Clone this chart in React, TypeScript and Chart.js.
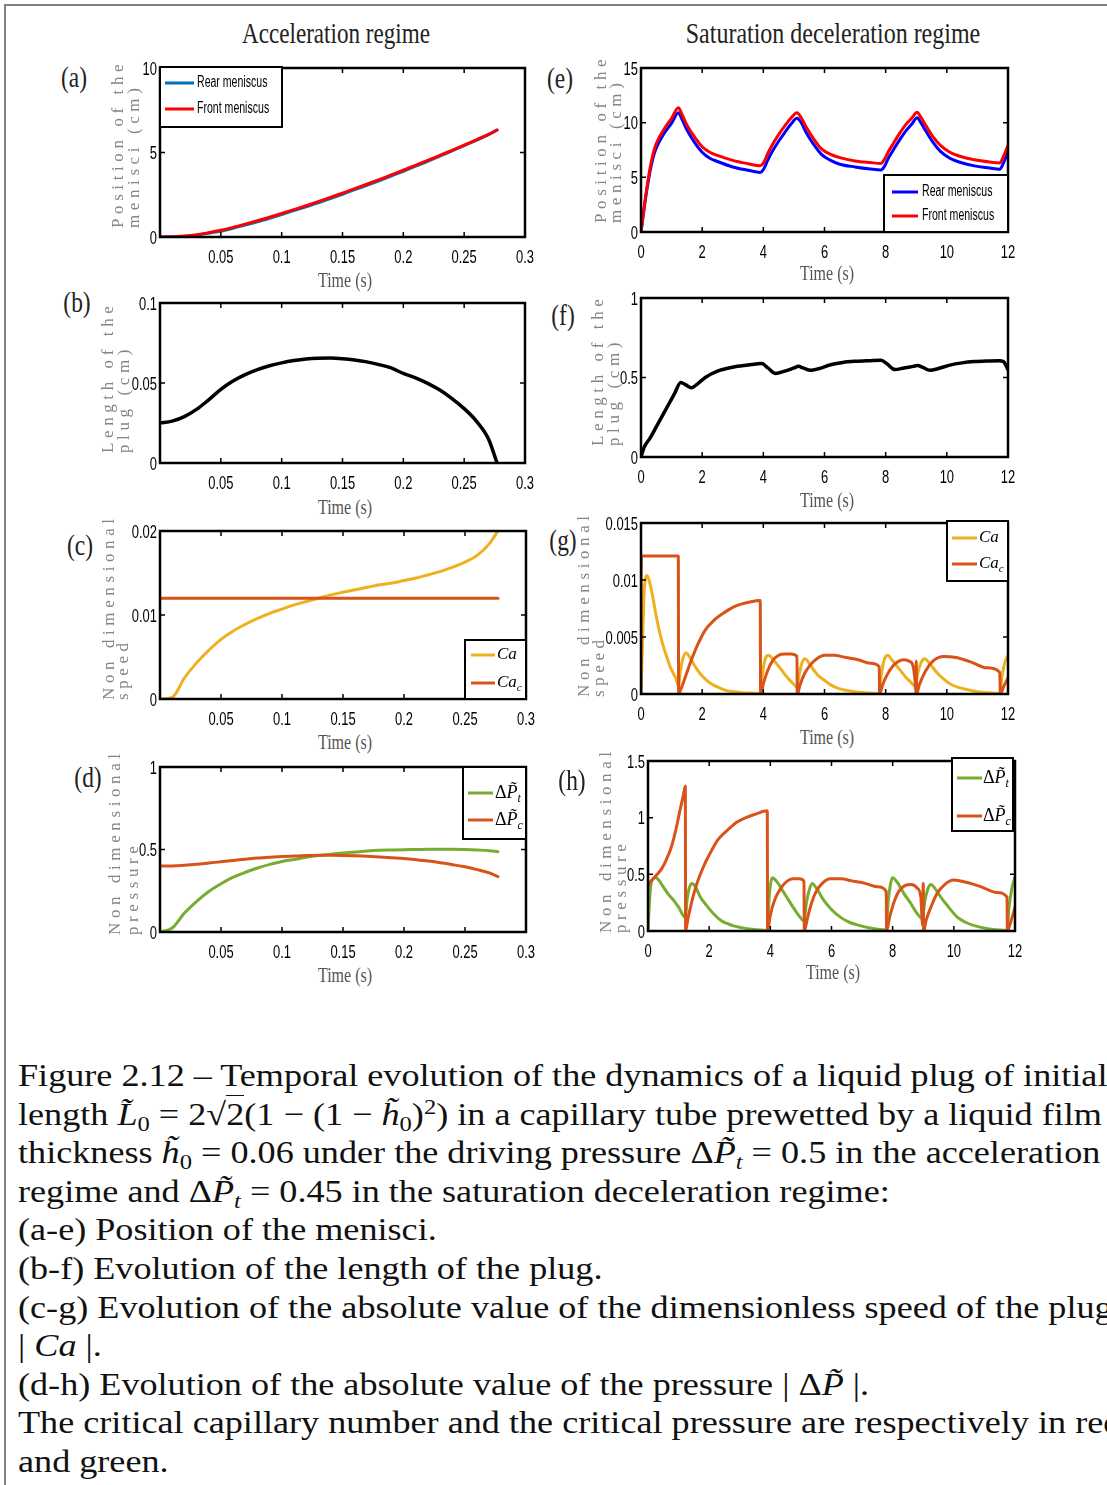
import React, { useEffect, useRef } from 'react';
import { Chart, registerables } from 'chart.js';
Chart.register(...registerables);

// ---------------- Data: acceleration regime ----------------
const accTime = [0, 0.01, 0.02, 0.03, 0.04, 0.05, 0.06, 0.07, 0.08, 0.09, 0.1, 0.11, 0.12, 0.13, 0.14, 0.15, 0.16, 0.17, 0.18, 0.19, 0.2, 0.21, 0.22, 0.23, 0.24, 0.25, 0.26, 0.27, 0.277];
const accFront = [0, 0.01, 0.06, 0.14, 0.26, 0.40, 0.57, 0.76, 0.96, 1.17, 1.39, 1.62, 1.85, 2.09, 2.34, 2.60, 2.86, 3.12, 3.39, 3.67, 3.95, 4.24, 4.53, 4.83, 5.13, 5.44, 5.75, 6.07, 6.33];
const accRear = [0, 0, 0.03, 0.11, 0.22, 0.35, 0.52, 0.71, 0.90, 1.11, 1.33, 1.56, 1.79, 2.02, 2.27, 2.53, 2.80, 3.06, 3.33, 3.61, 3.89, 4.19, 4.48, 4.79, 5.09, 5.41, 5.72, 6.06, 6.33];
const accPlugLength = [0.025, 0.0262, 0.029, 0.0335, 0.0395, 0.046, 0.0512, 0.0552, 0.0584, 0.0608, 0.0626, 0.064, 0.065, 0.0655, 0.0656, 0.0652, 0.0644, 0.0632, 0.0615, 0.0594, 0.056, 0.0532, 0.0498, 0.0456, 0.0403, 0.034, 0.0262, 0.015, 0];
const accCa = [0, 0.0002, 0.0025, 0.0043, 0.0058, 0.0071, 0.0081, 0.0089, 0.0096, 0.0102, 0.0107, 0.0112, 0.0116, 0.012, 0.0124, 0.0127, 0.013, 0.0133, 0.0136, 0.0138, 0.0141, 0.0144, 0.0148, 0.0152, 0.0157, 0.0163, 0.0171, 0.0185, 0.02];
const accCacTime = [0, 0.277];
const accCac = [0.012, 0.012];
const accDPt = [0, 0.024, 0.115, 0.185, 0.245, 0.292, 0.332, 0.362, 0.388, 0.41, 0.427, 0.44, 0.453, 0.463, 0.471, 0.479, 0.485, 0.491, 0.495, 0.497, 0.499, 0.5, 0.501, 0.501, 0.501, 0.5, 0.497, 0.493, 0.487];
const accDPc = [0.4, 0.4, 0.404, 0.41, 0.418, 0.426, 0.434, 0.441, 0.448, 0.453, 0.457, 0.46, 0.463, 0.465, 0.465, 0.464, 0.462, 0.459, 0.455, 0.45, 0.445, 0.438, 0.43, 0.42, 0.408, 0.395, 0.378, 0.358, 0.336];

// ---------------- Data: saturation deceleration regime [time, value] ----------------
const satFront = [[0, 0], [0.1, 2.2], [0.2, 4.2], [0.3, 5.9], [0.4, 7.2], [0.5, 8.1], [0.75, 9.4], [1.0, 10.4], [1.22, 11.36], [1.35, 10.7], [1.5, 9.8], [1.75, 8.7], [2.0, 7.8], [2.25, 7.3], [2.5, 7.0], [3.0, 6.55], [3.5, 6.25], [3.9, 6.06], [4.0, 6.3], [4.15, 7.2], [4.3, 8.0], [4.5, 8.9], [4.7, 9.7], [4.9, 10.4], [5.1, 10.9], [5.25, 10.4], [5.4, 9.6], [5.65, 8.5], [5.9, 7.6], [6.2, 7.1], [6.5, 6.8], [7.0, 6.5], [7.5, 6.35], [7.85, 6.27], [7.95, 6.6], [8.1, 7.4], [8.25, 8.1], [8.45, 9.0], [8.65, 9.8], [8.85, 10.4], [9.03, 10.95], [9.15, 10.5], [9.3, 9.8], [9.55, 8.7], [9.8, 7.9], [10.1, 7.3], [10.4, 6.95], [10.9, 6.6], [11.4, 6.4], [11.73, 6.32], [11.85, 6.9], [12.0, 7.9]];
const satRear = [[0, 0], [0.1, 2.1], [0.2, 4.0], [0.3, 5.6], [0.4, 6.85], [0.5, 7.7], [0.75, 9.0], [1.0, 9.95], [1.22, 10.9], [1.35, 10.25], [1.5, 9.35], [1.75, 8.2], [2.0, 7.3], [2.25, 6.75], [2.5, 6.45], [3.0, 5.95], [3.5, 5.65], [3.9, 5.45], [4.0, 5.7], [4.15, 6.6], [4.3, 7.4], [4.5, 8.3], [4.7, 9.1], [4.9, 9.85], [5.1, 10.4], [5.25, 9.95], [5.4, 9.1], [5.65, 8.0], [5.9, 7.1], [6.2, 6.55], [6.5, 6.2], [7.0, 5.95], [7.5, 5.76], [7.85, 5.67], [7.95, 5.95], [8.1, 6.8], [8.25, 7.5], [8.45, 8.4], [8.65, 9.2], [8.85, 9.85], [9.03, 10.45], [9.15, 10.0], [9.3, 9.3], [9.55, 8.2], [9.8, 7.35], [10.1, 6.75], [10.4, 6.4], [10.9, 6.05], [11.4, 5.85], [11.73, 5.73], [11.85, 6.3], [12.0, 7.3]];
const satPlugLength = [[0, 0], [0.1, 0.06], [0.3, 0.12], [0.5, 0.19], [0.7, 0.26], [0.9, 0.33], [1.1, 0.4], [1.3, 0.468], [1.45, 0.455], [1.65, 0.435], [1.85, 0.46], [2.1, 0.5], [2.5, 0.54], [3.0, 0.565], [3.5, 0.578], [3.95, 0.588], [4.15, 0.56], [4.4, 0.525], [4.7, 0.54], [5.0, 0.56], [5.15, 0.57], [5.3, 0.56], [5.55, 0.545], [5.8, 0.555], [6.2, 0.58], [6.6, 0.595], [7.0, 0.602], [7.5, 0.606], [7.85, 0.608], [8.05, 0.585], [8.3, 0.55], [8.6, 0.56], [8.9, 0.57], [9.05, 0.575], [9.2, 0.565], [9.45, 0.545], [9.7, 0.555], [10.1, 0.578], [10.5, 0.592], [10.9, 0.6], [11.3, 0.604], [11.7, 0.606], [11.85, 0.6], [12.0, 0.55]];
const satCa = [[0, 0], [0.05, 0.0045], [0.1, 0.0088], [0.15, 0.0102], [0.2, 0.0104], [0.3, 0.0096], [0.4, 0.0083], [0.5, 0.0068], [0.62, 0.0053], [0.75, 0.004], [0.85, 0.0032], [0.95, 0.0024], [1.06, 0.0018], [1.15, 0.0013], [1.22, 0.0007], [1.3, 0.0022], [1.38, 0.0032], [1.48, 0.0036], [1.6, 0.0032], [1.75, 0.0025], [1.93, 0.0018], [2.15, 0.0012], [2.36, 0.0008], [2.6, 0.0005], [2.8, 0.0003], [3.05, 0.0002], [3.3, 0.00012], [3.6, 0.00008], [3.89, 0.00005], [3.95, 0.0012], [4.02, 0.0026], [4.1, 0.0033], [4.17, 0.0034], [4.3, 0.0031], [4.45, 0.0026], [4.6, 0.0021], [4.8, 0.0014], [4.98, 0.0009], [5.1, 0.0006], [5.18, 0.0018], [5.26, 0.0027], [5.36, 0.0031], [5.5, 0.0027], [5.65, 0.0021], [5.8, 0.0016], [6.0, 0.0012], [6.2, 0.0008], [6.45, 0.0005], [6.75, 0.0003], [7.1, 0.00015], [7.5, 0.00008], [7.78, 0.00005], [7.85, 0.0015], [7.93, 0.0028], [8.0, 0.0033], [8.07, 0.0034], [8.2, 0.003], [8.35, 0.0025], [8.5, 0.002], [8.65, 0.0015], [8.8, 0.0011], [8.97, 0.0007], [9.05, 0.0018], [9.15, 0.0027], [9.28, 0.0031], [9.4, 0.0028], [9.55, 0.0023], [9.7, 0.0018], [9.9, 0.0013], [10.1, 0.0009], [10.35, 0.0006], [10.65, 0.0004], [11.0, 0.0002], [11.4, 0.0001], [11.73, 0.00005], [11.8, 0.0015], [11.9, 0.0028], [12.0, 0.0034]];
const satCac = [[0, 0], [0.01, 0.0121], [1.22, 0.0121], [1.23, 0], [1.3, 0.0004], [1.45, 0.0015], [1.65, 0.003], [1.85, 0.0043], [2.1, 0.0056], [2.4, 0.0065], [2.7, 0.0071], [3.0, 0.0076], [3.3, 0.0079], [3.6, 0.0081], [3.9, 0.0082], [3.91, 0], [4.0, 0.0009], [4.15, 0.0021], [4.3, 0.0029], [4.5, 0.0034], [4.7, 0.0035], [4.9, 0.0035], [5.1, 0.0033], [5.11, 0], [5.2, 0.0008], [5.35, 0.0018], [5.55, 0.0026], [5.75, 0.0031], [6.0, 0.0034], [6.3, 0.0034], [6.7, 0.0032], [7.1, 0.003], [7.5, 0.0027], [7.79, 0.0024], [7.8, 0], [7.9, 0.0008], [8.05, 0.0017], [8.25, 0.0025], [8.45, 0.0029], [8.6, 0.003], [8.75, 0.0029], [8.88, 0.0026], [8.96, 0.0012], [8.99, 0.0001], [9.0, 0.0029], [9.01, 0], [9.1, 0.0008], [9.3, 0.002], [9.55, 0.0029], [9.9, 0.0033], [10.3, 0.0032], [10.8, 0.0028], [11.3, 0.0023], [11.73, 0.0019], [11.75, 0], [11.85, 0.0006], [12.0, 0.0014]];
const satDPt = [[0, 0], [0.04, 0.22], [0.1, 0.42], [0.17, 0.46], [0.24, 0.475], [0.35, 0.45], [0.5, 0.39], [0.65, 0.33], [0.84, 0.27], [1.0, 0.21], [1.22, 0.12], [1.28, 0.28], [1.35, 0.38], [1.44, 0.42], [1.55, 0.39], [1.71, 0.3], [1.9, 0.23], [2.15, 0.15], [2.4, 0.09], [2.6, 0.065], [2.8, 0.045], [3.05, 0.03], [3.4, 0.015], [3.9, 0.005], [3.95, 0.25], [4.0, 0.4], [4.06, 0.47], [4.2, 0.44], [4.44, 0.34], [4.6, 0.27], [4.77, 0.2], [4.95, 0.13], [5.1, 0.09], [5.18, 0.25], [5.28, 0.37], [5.37, 0.42], [5.5, 0.38], [5.75, 0.27], [6.0, 0.19], [6.3, 0.12], [6.6, 0.075], [6.9, 0.05], [7.3, 0.025], [7.79, 0.01], [7.85, 0.25], [7.92, 0.4], [7.99, 0.47], [8.15, 0.43], [8.37, 0.33], [8.6, 0.24], [8.81, 0.15], [8.97, 0.11], [9.05, 0.26], [9.15, 0.37], [9.25, 0.41], [9.4, 0.37], [9.57, 0.3], [9.8, 0.22], [10.12, 0.12], [10.4, 0.075], [10.7, 0.045], [11.1, 0.02], [11.5, 0.008], [11.74, 0.006], [11.8, 0.2], [11.9, 0.38], [12.0, 0.475]];
const satDPc = [[0, 0.4], [0.1, 0.44], [0.2, 0.47], [0.3, 0.5], [0.45, 0.55], [0.6, 0.63], [0.75, 0.73], [0.9, 0.88], [1.05, 1.07], [1.15, 1.19], [1.22, 1.28], [1.23, 0], [1.3, 0.1], [1.45, 0.28], [1.6, 0.42], [1.8, 0.56], [2.0, 0.67], [2.3, 0.81], [2.6, 0.89], [2.9, 0.96], [3.2, 1.0], [3.5, 1.03], [3.9, 1.06], [3.91, 0], [4.0, 0.14], [4.15, 0.28], [4.35, 0.38], [4.55, 0.44], [4.75, 0.46], [4.95, 0.46], [5.1, 0.44], [5.11, 0], [5.22, 0.12], [5.35, 0.25], [5.5, 0.35], [5.7, 0.42], [5.95, 0.46], [6.3, 0.46], [6.7, 0.44], [7.1, 0.42], [7.5, 0.39], [7.79, 0.35], [7.8, 0], [7.9, 0.12], [8.05, 0.26], [8.2, 0.35], [8.4, 0.4], [8.6, 0.41], [8.8, 0.38], [8.92, 0.3], [8.98, 0.05], [9.0, 0.42], [9.01, 0], [9.1, 0.1], [9.25, 0.21], [9.45, 0.33], [9.7, 0.41], [10.0, 0.45], [10.4, 0.43], [10.9, 0.39], [11.4, 0.34], [11.74, 0.3], [11.75, 0], [11.85, 0.07], [12.0, 0.21]];

// ---------------- Tick values ----------------
const accXTicks = [0, 0.05, 0.1, 0.15, 0.2, 0.25, 0.3];
const satXTicks = [0, 2, 4, 6, 8, 10, 12];
const yTicksA = [0, 5, 10];
const yTicksB = [0, 0.05, 0.1];
const yTicksC = [0, 0.01, 0.02];
const yTicksD = [0, 0.5, 1];
const yTicksE = [0, 5, 10, 15];
const yTicksF = [0, 0.5, 1];
const yTicksG = [0, 0.005, 0.01, 0.015];
const yTicksH = [0, 0.5, 1, 1.5];

// ---------------- Styling ----------------
const SERIF = '"Liberation Serif", "DejaVu Serif", serif';
const SANS = '"Liberation Sans", "DejaVu Sans", sans-serif';
const PAD_L = 50, PAD_T = 12, PAD_R = 16, PAD_B = 32;

const zip = (xs: number[], ys: number[]) => xs.map((x, i) => ({ x, y: ys[i] }));
const pairs = (p: number[][]) => p.map(([x, y]) => ({ x, y }));
const fmt = (v: number) => String(parseFloat(Number(v).toFixed(5)));

function squishText(ctx: CanvasRenderingContext2D, text: string, x: number, y: number, align: 'left' | 'right' | 'center', sx: number) {
  ctx.save();
  ctx.translate(x, y);
  ctx.scale(sx, 1);
  ctx.textAlign = align;
  ctx.fillText(text, 0, 0);
  ctx.restore();
}

// Frame (box with inward ticks on all four sides) and condensed tick labels
const framePlugin = {
  id: 'matFrame',
  afterDatasetsDraw(chart: any, _a: any, opts: any) {
    const { ctx, chartArea: a, scales } = chart;
    const xs = scales.x, ys = scales.y;
    const tl = 5;
    ctx.save();
    ctx.strokeStyle = '#000';
    ctx.lineWidth = 1.5;
    ctx.beginPath();
    xs.ticks.forEach((t: any) => {
      const px = xs.getPixelForValue(t.value);
      if (px <= a.left + 1 || px >= a.right - 1) return;
      ctx.moveTo(px, a.bottom); ctx.lineTo(px, a.bottom - tl);
      ctx.moveTo(px, a.top); ctx.lineTo(px, a.top + tl);
    });
    ys.ticks.forEach((t: any) => {
      const py = ys.getPixelForValue(t.value);
      if (py <= a.top + 1 || py >= a.bottom - 1) return;
      ctx.moveTo(a.left, py); ctx.lineTo(a.left + tl, py);
      ctx.moveTo(a.right, py); ctx.lineTo(a.right - tl, py);
    });
    ctx.stroke();
    ctx.lineWidth = 2.5;
    ctx.strokeRect(a.left, a.top, a.right - a.left, a.bottom - a.top);

    // tick labels (tall, condensed, like the original figure)
    ctx.fillStyle = '#000';
    ctx.font = `18px ${SANS}`;
    ctx.textBaseline = 'alphabetic';
    xs.ticks.forEach((t: any) => {
      if (opts && opts.hideX0 && Number(t.value) === 0) return;
      const px = xs.getPixelForValue(t.value);
      squishText(ctx, fmt(t.value), px, a.bottom + 26, 'center', 0.72);
    });
    ys.ticks.forEach((t: any) => {
      const py = ys.getPixelForValue(t.value);
      squishText(ctx, fmt(t.value), a.left - 3, py + 6.5, 'right', 0.72);
    });
    ctx.restore();
  },
};

function drawMath(ctx: CanvasRenderingContext2D, label: string, x: number, y: number, size: number) {
  const parts = label.split('_');
  let body = parts[0];
  const sub = parts[1];
  let cx = x;
  if (body.startsWith('Δ')) {
    ctx.font = `${size}px ${SERIF}`;
    ctx.fillText('Δ', cx, y);
    cx += ctx.measureText('Δ').width;
    body = body.slice(1);
  }
  ctx.font = `italic ${size}px ${SERIF}`;
  ctx.fillText(body, cx, y);
  cx += ctx.measureText(body).width;
  if (sub) {
    ctx.font = `italic ${Math.round(size * 0.65)}px ${SERIF}`;
    ctx.fillText(sub, cx, y + size * 0.32);
  }
}

const legendPlugin = {
  id: 'boxLegend',
  afterDraw(chart: any, _args: any, opts: any) {
    if (!opts || !opts.rect) return;
    const { ctx, chartArea: a } = chart;
    const r = opts.rect;
    ctx.save();
    ctx.fillStyle = '#fff';
    ctx.fillRect(a.left + r[0], a.top + r[1], r[2] - r[0], r[3] - r[1]);
    ctx.lineWidth = 2;
    ctx.strokeStyle = '#000';
    ctx.strokeRect(a.left + r[0], a.top + r[1], r[2] - r[0], r[3] - r[1]);
    chart.data.datasets.forEach((ds: any, i: number) => {
      const y = a.top + opts.rows[i];
      ctx.strokeStyle = ds.borderColor;
      ctx.lineWidth = 3;
      ctx.beginPath();
      ctx.moveTo(a.left + opts.line[0], y);
      ctx.lineTo(a.left + opts.line[1], y);
      ctx.stroke();
      ctx.fillStyle = '#000';
      ctx.textBaseline = 'middle';
      ctx.textAlign = 'left';
      const tx = a.left + opts.textX;
      if (opts.kind === 'sans') {
        ctx.font = `16px ${SANS}`;
        squishText(ctx, ds.label, tx, y, 'left', 0.66);
      } else {
        drawMath(ctx, ds.label, tx, y, opts.size || 17);
      }
    });
    ctx.restore();
  },
};

type DS = { label: string; data: { x: number; y: number }[]; color: string; width?: number; order?: number };
type Spec = {
  id: string; plot: number[]; xMin: number; xMax: number; xTicks: number[]; hideX0?: boolean;
  yMin: number; yMax: number; yTicks: number[]; datasets: DS[]; legend?: any;
  tag: string; tagPos: number[]; yTitle: string[]; yTitleX: number[]; yTitleBottom: number; xTitlePos: number[];
};

const MBLUE = '#0072BD', RED = '#FF0000', BLUE = '#0000FF', YELLOW = '#EDB120', ORANGE = '#D95319', GREEN = '#77AC30';

const panels: Spec[] = [
  {
    id: 'a', plot: [160, 68, 525, 237], xMin: 0, xMax: 0.3, xTicks: accXTicks, hideX0: true, yMin: 0, yMax: 10, yTicks: yTicksA,
    datasets: [
      { label: 'Rear meniscus', data: zip(accTime, accRear), color: MBLUE, order: 1 },
      { label: 'Front meniscus', data: zip(accTime, accFront), color: RED, order: 0 },
    ],
    legend: { rect: [0, -1, 122, 59], rows: [15, 41], line: [5, 34], textX: 37, kind: 'sans' },
    tag: '(a)', tagPos: [74, 77], yTitle: ['Position of the', 'menisci (cm)'], yTitleX: [117, 133], yTitleBottom: 228, xTitlePos: [345, 280],
  },
  {
    id: 'b', plot: [160, 303, 525, 463], xMin: 0, xMax: 0.3, xTicks: accXTicks, hideX0: true, yMin: 0, yMax: 0.1, yTicks: yTicksB,
    datasets: [{ label: 'Plug length', data: zip(accTime, accPlugLength), color: '#000', width: 3.5 }],
    tag: '(b)', tagPos: [77, 302], yTitle: ['Length of the', 'plug (cm)'], yTitleX: [107, 123], yTitleBottom: 453, xTitlePos: [345, 507],
  },
  {
    id: 'c', plot: [160, 531, 526, 699], xMin: 0, xMax: 0.3, xTicks: accXTicks, hideX0: true, yMin: 0, yMax: 0.02, yTicks: yTicksC,
    datasets: [
      { label: 'Ca', data: zip(accTime, accCa), color: YELLOW, order: 1 },
      { label: 'Ca_c', data: zip(accCacTime, accCac), color: ORANGE, order: 0 },
    ],
    legend: { rect: [305, 109, 366, 168], rows: [124, 152], line: [311, 335], textX: 337, kind: 'math', size: 17 },
    tag: '(c)', tagPos: [80, 545], yTitle: ['Non dimensional', 'speed'], yTitleX: [108, 122], yTitleBottom: 700, xTitlePos: [345, 742],
  },
  {
    id: 'd', plot: [160, 767, 526, 932], xMin: 0, xMax: 0.3, xTicks: accXTicks, hideX0: true, yMin: 0, yMax: 1, yTicks: yTicksD,
    datasets: [
      { label: 'ΔP\u0303_t', data: zip(accTime, accDPt), color: GREEN, order: 1 },
      { label: 'ΔP\u0303_c', data: zip(accTime, accDPc), color: ORANGE, order: 0 },
    ],
    legend: { rect: [303, 0, 366, 72], rows: [26, 53], line: [308, 333], textX: 335, kind: 'math', size: 18 },
    tag: '(d)', tagPos: [88, 777], yTitle: ['Non dimensional', 'pressure'], yTitleX: [114, 132], yTitleBottom: 935, xTitlePos: [345, 975],
  },
  {
    id: 'e', plot: [641, 68, 1008, 232], xMin: 0, xMax: 12, xTicks: satXTicks, yMin: 0, yMax: 15, yTicks: yTicksE,
    datasets: [
      { label: 'Rear meniscus', data: pairs(satRear), color: BLUE, order: 1 },
      { label: 'Front meniscus', data: pairs(satFront), color: RED, order: 0 },
    ],
    legend: { rect: [243, 107, 367, 164], rows: [124, 148], line: [251, 277], textX: 281, kind: 'sans' },
    tag: '(e)', tagPos: [560, 78], yTitle: ['Position of the', 'menisci (cm)'], yTitleX: [600, 615], yTitleBottom: 223, xTitlePos: [827, 273],
  },
  {
    id: 'f', plot: [641, 298, 1008, 457], xMin: 0, xMax: 12, xTicks: satXTicks, yMin: 0, yMax: 1, yTicks: yTicksF,
    datasets: [{ label: 'Plug length', data: pairs(satPlugLength), color: '#000', width: 3.5 }],
    tag: '(f)', tagPos: [563, 315], yTitle: ['Length of the', 'plug (cm)'], yTitleX: [597, 613], yTitleBottom: 446, xTitlePos: [827, 500],
  },
  {
    id: 'g', plot: [641, 523, 1008, 694], xMin: 0, xMax: 12, xTicks: satXTicks, yMin: 0, yMax: 0.015, yTicks: yTicksG,
    datasets: [
      { label: 'Ca', data: pairs(satCa), color: YELLOW, order: 1 },
      { label: 'Ca_c', data: pairs(satCac), color: ORANGE, order: 0 },
    ],
    legend: { rect: [306, -2, 367, 58], rows: [15, 41], line: [311, 336], textX: 338, kind: 'math', size: 17 },
    tag: '(g)', tagPos: [563, 540], yTitle: ['Non dimensional', 'speed'], yTitleX: [583, 598], yTitleBottom: 697, xTitlePos: [827, 737],
  },
  {
    id: 'h', plot: [648, 761, 1015, 931], xMin: 0, xMax: 12, xTicks: satXTicks, yMin: 0, yMax: 1.5, yTicks: yTicksH,
    datasets: [
      { label: 'ΔP\u0303_t', data: pairs(satDPt), color: GREEN, order: 1 },
      { label: 'ΔP\u0303_c', data: pairs(satDPc), color: ORANGE, order: 0 },
    ],
    legend: { rect: [304, -3, 365, 70], rows: [17, 55], line: [309, 334], textX: 335, kind: 'math', size: 18 },
    tag: '(h)', tagPos: [572, 780], yTitle: ['Non dimensional', 'pressure'], yTitleX: [605, 620], yTitleBottom: 933, xTitlePos: [833, 972],
  },
];

function Panel({ spec }: { spec: Spec }) {
  const ref = useRef<HTMLCanvasElement>(null);
  const [l, t, r, b] = spec.plot;
  const W = r - l + PAD_L + PAD_R;
  const H = b - t + PAD_T + PAD_B;
  useEffect(() => {
    if (!ref.current) return;
    const chart = new Chart(ref.current, {
      type: 'line',
      data: {
        datasets: spec.datasets.map((d) => ({
          label: d.label,
          data: d.data,
          borderColor: d.color,
          backgroundColor: d.color,
          borderWidth: d.width ?? 3,
          pointRadius: 0,
          fill: false,
          cubicInterpolationMode: 'monotone',
          borderJoinStyle: 'round',
          borderCapStyle: 'round',
          order: d.order ?? 0,
        })),
      },
      options: {
        animation: false,
        responsive: false,
        maintainAspectRatio: false,
        devicePixelRatio: 1,
        events: [],
        layout: { padding: { top: PAD_T, right: PAD_R, left: 0, bottom: 0 } },
        plugins: {
          legend: { display: false },
          tooltip: { enabled: false },
          boxLegend: spec.legend || {},
          matFrame: { hideX0: !!spec.hideX0 },
        } as any,
        scales: {
          x: {
            type: 'linear', min: spec.xMin, max: spec.xMax,
            grid: { display: false, drawTicks: false },
            border: { display: false },
            ticks: { display: false, autoSkip: false, maxRotation: 0, minRotation: 0 },
            afterBuildTicks: (s: any) => { s.ticks = spec.xTicks.map((v) => ({ value: v })); },
            afterFit: (s: any) => { s.height = PAD_B; s.paddingLeft = 0; s.paddingRight = 0; },
          },
          y: {
            type: 'linear', min: spec.yMin, max: spec.yMax,
            grid: { display: false, drawTicks: false },
            border: { display: false },
            ticks: { display: false, autoSkip: false },
            afterBuildTicks: (s: any) => { s.ticks = spec.yTicks.map((v) => ({ value: v })); },
            afterFit: (s: any) => { s.width = PAD_L; s.paddingTop = 0; s.paddingBottom = 0; },
          },
        },
      } as any,
      plugins: [framePlugin, legendPlugin],
    });
    return () => chart.destroy();
  }, []);
  return (
    <canvas
      ref={ref}
      width={W}
      height={H}
      style={{ position: 'absolute', left: l - PAD_L, top: t - PAD_T, width: W, height: H }}
    />
  );
}

function Txt({ x, y, size, sx = 1, color = '#000', children }: any) {
  return (
    <div
      style={{
        position: 'absolute', left: x, top: y, transform: `translate(-50%, -50%) scaleX(${sx})`,
        fontFamily: SERIF, fontSize: size, lineHeight: 1, whiteSpace: 'nowrap', color,
      }}
    >
      {children}
    </div>
  );
}

function YTitle({ x, bottom, text }: any) {
  return (
    <div
      style={{
        position: 'absolute', left: x, top: bottom, transformOrigin: '0 0',
        transform: 'rotate(-90deg) translateY(-50%)', fontFamily: SERIF, fontSize: 17,
        letterSpacing: '4.6px', lineHeight: 1, whiteSpace: 'nowrap', color: '#858585',
      }}
    >
      {text}
    </div>
  );
}

const subS: any = { fontSize: '0.68em', verticalAlign: '-0.28em', lineHeight: 0 };
const supS: any = { fontSize: '0.68em', verticalAlign: '0.5em', lineHeight: 0 };
const Sub = ({ children }: any) => <span style={subS}>{children}</span>;
const Sup = ({ children }: any) => <span style={supS}>{children}</span>;
const Pt = () => (<>Δ<i>P̃</i><Sub><i>t</i></Sub></>);

const captionLines: any[] = [
  <>Figure 2.12 – Temporal evolution of the dynamics of a liquid plug of initial</>,
  <>length <i>L̃</i><Sub>0</Sub> = 2√<span style={{ borderTop: '1.5px solid #111' }}>2</span>(1 − (1 − <i>h̃</i><Sub>0</Sub>)<Sup>2</Sup>) in a capillary tube prewetted by a liquid film of</>,
  <>thickness <i>h̃</i><Sub>0</Sub> = 0.06 under the driving pressure <Pt /> = 0.5 in the acceleration</>,
  <>regime and <Pt /> = 0.45 in the saturation deceleration regime:</>,
  <>(a-e) Position of the menisci.</>,
  <>(b-f) Evolution of the length of the plug.</>,
  <>(c-g) Evolution of the absolute value of the dimensionless speed of the plug</>,
  <>| <i>Ca</i> |.</>,
  <>(d-h) Evolution of the absolute value of the pressure | Δ<i>P̃</i> |.</>,
  <>The critical capillary number and the critical pressure are respectively in red</>,
  <>and green.</>,
];

export default function App() {
  return (
    <div style={{ position: 'fixed', left: 0, top: 0, width: 1107, height: 1485, overflow: 'hidden', background: '#fff' }}>
      <div style={{ position: 'absolute', left: 4, top: 4, width: 1300, height: 1700, borderLeft: '2px solid #808080', borderTop: '2px solid #808080' }} />
      <Txt x={336} y={33} size={30} sx={0.77} color="#222">Acceleration regime</Txt>
      <Txt x={833} y={33} size={30} sx={0.8} color="#222">Saturation deceleration regime</Txt>
      {panels.map((p) => <Panel key={p.id} spec={p} />)}
      {panels.map((p) => (
        <React.Fragment key={'t' + p.id}>
          <Txt x={p.tagPos[0]} y={p.tagPos[1]} size={30} sx={0.78} color="#222">{p.tag}</Txt>
          <Txt x={p.xTitlePos[0]} y={p.xTitlePos[1]} size={20} sx={0.8} color="#555">Time (s)</Txt>
          <YTitle x={p.yTitleX[0]} bottom={p.yTitleBottom} text={p.yTitle[0]} />
          <YTitle x={p.yTitleX[1]} bottom={p.yTitleBottom} text={p.yTitle[1]} />
        </React.Fragment>
      ))}
      {captionLines.map((line, i) => (
        <div
          key={'c' + i}
          style={{
            position: 'absolute', left: 18, top: 1075 + i * 38.6 - 19, height: 38, lineHeight: '38px',
            fontFamily: SERIF, fontSize: 32, whiteSpace: 'nowrap', color: '#111',
            transformOrigin: '0 50%', transform: 'scaleX(1.13)',
          }}
        >
          {line}
        </div>
      ))}
    </div>
  );
}
